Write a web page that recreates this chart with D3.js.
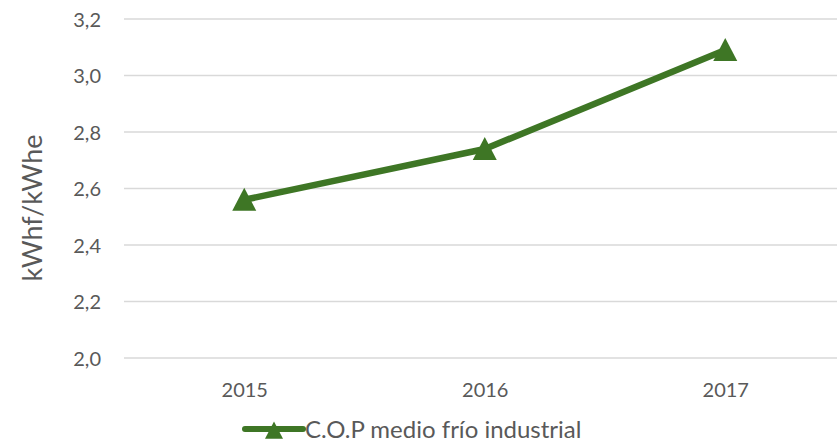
<!DOCTYPE html>
<html><head><meta charset="utf-8">
<script src="https://cdn.jsdelivr.net/npm/d3@7"></script>
<style>body{margin:0;background:#fff}svg{display:block}</style>
</head><body>
<script>
const categories = ["2015", "2016", "2017"];
const copValues = [2.56, 2.74, 3.09];
const yTicks = [2.0, 2.2, 2.4, 2.6, 2.8, 3.0, 3.2];
const seriesName = "C.O.P medio frío industrial";
const yLabel = "kWhf/kWhe";

const W = 837, H = 444;
const green = "#3e7625", txt = "#595959", grid = "#d9d9d9";
const font = "Lato, 'Open Sans', sans-serif";
const svg = d3.select("body").append("svg").attr("width", W).attr("height", H);

const plotL = 124, plotR = 845.5, plotT = 19, plotB = 358;
const x = d3.scalePoint().domain(categories).range([plotL, plotR]).padding(0.5);
const y = d3.scaleLinear().domain([2.0, 3.2]).range([plotB, plotT]);
const fmt = v => d3.format(".1f")(v).replace(".", ",");

// gridlines
svg.append("g").selectAll("line").data(yTicks).join("line")
  .attr("x1", plotL).attr("x2", W).attr("y1", d => y(d)).attr("y2", d => y(d))
  .attr("stroke", grid).attr("stroke-width", 1.3);

// y tick labels
const yAxis = d3.axisLeft(y).tickValues(yTicks).tickFormat(fmt).tickSize(0).tickPadding(0);
const ga = svg.append("g").attr("transform", `translate(101,0)`).call(yAxis);
ga.select(".domain").remove();
ga.selectAll("text").attr("font-family", font).attr("font-size", 20).attr("fill", txt).attr("dy", "0.35em");

// x tick labels
const xAxis = d3.axisBottom(x).tickSize(0).tickPadding(0);
const gx = svg.append("g").attr("transform", `translate(0,397)`).call(xAxis);
gx.select(".domain").remove();
gx.selectAll("text").attr("font-family", font).attr("font-size", 20).attr("fill", txt).attr("dy", 0);

// y label
svg.append("text").attr("transform", "translate(42,208) rotate(-90)")
  .attr("text-anchor", "middle").attr("font-family", font).attr("font-size", 27)
  .attr("fill", txt).text(yLabel);

// line
const data = categories.map((c, i) => ({c, v: copValues[i]}));
svg.append("path").datum(data)
  .attr("d", d3.line().x(d => x(d.c)).y(d => y(d.v)))
  .attr("fill", "none").attr("stroke", green).attr("stroke-width", 6.5)
  .attr("stroke-linejoin", "round");

const tri = (cx, cy, s) => `M${cx},${cy - s}L${cx + s},${cy + s * 0.92}L${cx - s},${cy + s * 0.92}Z`;
svg.append("g").selectAll("path").data(data).join("path")
  .attr("d", d => tri(x(d.c), y(d.v), 12)).attr("fill", green);

// legend
const lg = svg.append("g");
lg.append("line").attr("x1", 245).attr("x2", 303).attr("y1", 429).attr("y2", 429)
  .attr("stroke", green).attr("stroke-width", 6).attr("stroke-linecap", "round");
lg.append("path").attr("d", tri(274, 430.5, 9)).attr("fill", green);
lg.append("text").attr("x", 305).attr("y", 438).attr("font-family", font).attr("font-size", 24)
  .attr("fill", txt).text(seriesName);
</script>
</body></html>
